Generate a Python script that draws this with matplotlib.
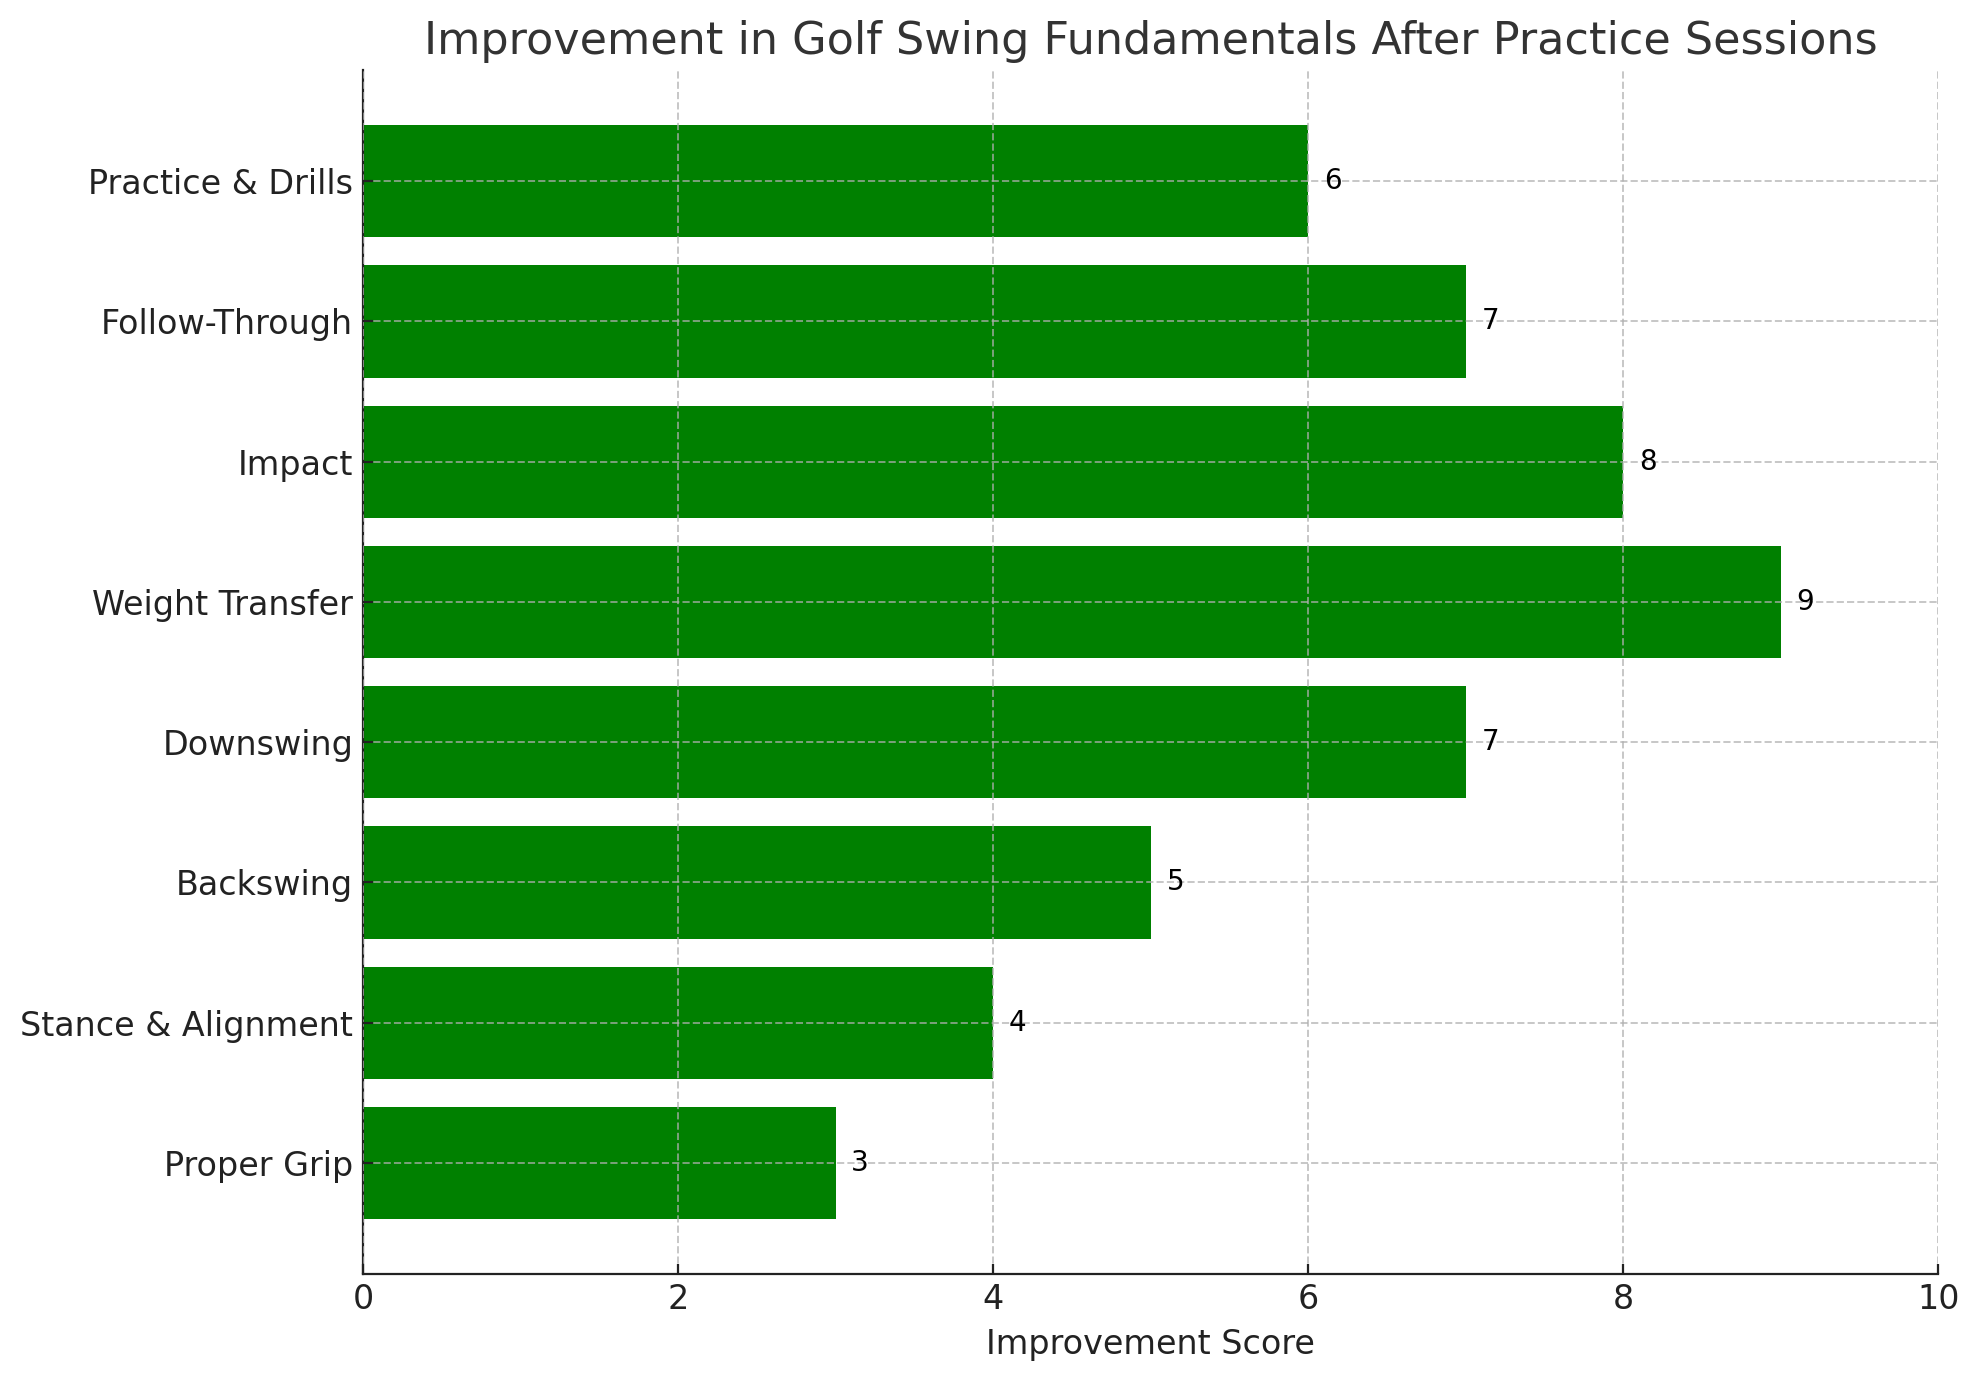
import numpy as np
import matplotlib
matplotlib.use('Agg')
import matplotlib.pyplot as plt

# 数据
categories = ['Proper Grip', 'Stance & Alignment', 'Backswing', 'Downswing',
              'Weight Transfer', 'Impact', 'Follow-Through', 'Practice & Drills']
scores = [3, 4, 5, 7, 9, 8, 7, 6]
x_ticks = [0, 2, 4, 6, 8, 10]

fig, ax = plt.subplots(figsize=(9.9, 6.9), dpi=200)
fig.subplots_adjust(left=0.1833, right=0.979, top=0.949, bottom=0.077)

y = np.arange(len(categories))
bars = ax.barh(y, scores, color='green', height=0.8, zorder=1)

for bar, val in zip(bars, scores):
    ax.text(bar.get_width() + 0.1, bar.get_y() + bar.get_height() / 2, str(val),
            va='center', ha='left', fontsize=10, color='black')

ax.set_yticks(y)
ax.set_yticklabels(categories, fontsize=12, color='#222222')
ax.set_xticks(x_ticks)
ax.tick_params(axis='x', labelsize=12, labelcolor='#222222')
ax.tick_params(axis='both', direction='in', color='#222222')
ax.set_xlim(0, 10)
ax.set_xlabel('Improvement Score', fontsize=12, color='#222222')
ax.set_title('Improvement in Golf Swing Fundamentals After Practice Sessions',
             fontsize=16, color='#333333')

ax.grid(True, linestyle='--', color='#b0b0b0', alpha=0.7, linewidth=0.7)
ax.set_axisbelow(False)
ax.spines['top'].set_visible(False)
ax.spines['right'].set_visible(False)
for side in ['left', 'bottom']:
    ax.spines[side].set_color('#222222')

plt.savefig('out.png', dpi=200)
plt.close()
